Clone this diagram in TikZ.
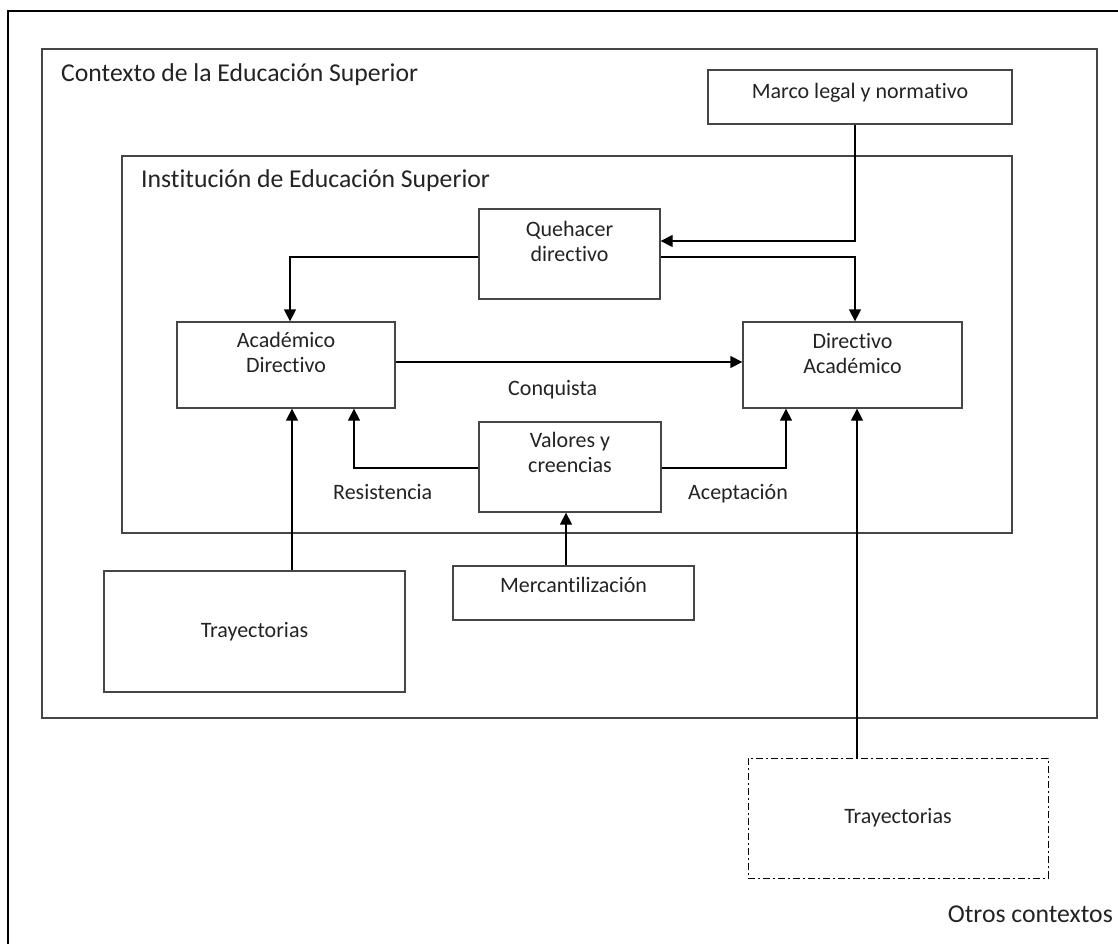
\documentclass[tikz,border=0pt]{standalone}
\usepackage{fontspec}
\setmainfont{Carlito}[RawFeature={-liga;-clig;-calt;-dlig}]
\usetikzlibrary{arrows.meta}
\definecolor{boxline}{RGB}{70,70,70}
\definecolor{txt}{RGB}{35,35,35}
\newcommand{\boxfont}{\fontsize{22}{26}\selectfont}
\newcommand{\headfont}{\fontsize{25.7}{30}\selectfont}
\begin{document}
\begin{tikzpicture}[x=1pt, y=-1pt,
    box/.style={draw=boxline, line width=1.3pt, inner sep=0pt, text=txt, font=\boxfont},
    toplab/.style={anchor=base, inner sep=0pt, text=txt, font=\boxfont},
    tag/.style={anchor=base west, inner sep=0pt, text=txt, font=\boxfont},
    head/.style={anchor=base west, inner sep=0pt, text=txt, font=\headfont},
    arr/.style={-{Triangle[length=12pt, width=12pt]}, line width=1.3pt}]
    \clip (0,0) rectangle (1118,943);

    % marcos de contexto
    \draw[line width=2pt] (8,960) -- (8,11) -- (1130,11);
    \draw[draw=boxline, line width=1.3pt] (42,49) rectangle (1097,718);
    \draw[draw=boxline, line width=1.3pt] (122,156) rectangle (1012,533);
    \node[head] (ctx) at (61,81) {Contexto de la Educación Superior};
    \node[head] (ies) at (141,187) {Institución de Educación Superior};
    \node[head, anchor=base east] (otros) at (1113,922) {Otros contextos};

    \node[box, minimum width=304pt, minimum height=54pt,
        label={[toplab, yshift=-29pt]north:Marco legal y normativo}] (marco) at (860,97) {};
    \node[box, minimum width=181pt, minimum height=90pt,
        label={[toplab, yshift=-28pt]north:Quehacer},
        label={[toplab, yshift=-53pt]north:directivo}] (quehacer) at (569.5,254) {};
    \node[box, minimum width=218pt, minimum height=86pt,
        label={[toplab, yshift=-26pt]north:Académico},
        label={[toplab, yshift=-51pt]north:Directivo}] (acadir) at (286,365) {};
    \node[box, minimum width=219pt, minimum height=86pt,
        label={[toplab, yshift=-27pt]north:Directivo},
        label={[toplab, yshift=-52pt]north:Académico}] (diracad) at (852.5,365) {};
    \node[box, minimum width=182pt, minimum height=90pt,
        label={[toplab, yshift=-26pt]north:Valores y},
        label={[toplab, yshift=-51pt]north:creencias}] (valores) at (570,467) {};
    \node[box, minimum width=241pt, minimum height=54pt,
        label={[toplab, yshift=-27pt]north:Mercantilización}] (merc) at (573.5,593) {};
    \node[box, minimum width=301pt, minimum height=121pt] (trayL) at (254.5,631.5) {Trayectorias};
    \node[box, draw=black, line width=1pt, dash pattern=on 7pt off 3pt on 2pt off 3pt,
        minimum width=300pt, minimum height=120pt] (trayR) at (898,818) {Trayectorias};

    \node[tag] (conq) at (508,395) {Conquista};
    \node[tag] (resis) at (333,499) {Resistencia};
    \node[tag] (acep) at (688,499) {Aceptación};

    \coordinate (c1) at ([xshift=6pt]acadir.south);
    \coordinate (c2) at ([xshift=4.5pt]diracad.south);
    \coordinate (c3) at ([xshift=-4pt]valores.south);

    \draw[arr] ([xshift=-5pt]marco.south) |- ([yshift=13pt]quehacer.east);
    \draw[arr] ([yshift=-3pt]quehacer.east) -| ([xshift=2.5pt]diracad.north);
    \draw[arr] ([yshift=-3pt]quehacer.west) -| ([xshift=4pt]acadir.north);
    \draw[arr] ([yshift=3pt]acadir.east) -- ([yshift=3pt]diracad.west);
    \draw[arr] ([yshift=-1pt]valores.west) -| ([xshift=68pt]acadir.south);
    \draw[arr] ([yshift=-1pt]valores.east) -| ([xshift=-66.5pt]diracad.south);
    \draw[arr] (c1 |- trayL.north) -- (c1);
    \draw[arr] (c2 |- trayR.north) -- (c2);
    \draw[arr] (c3 |- merc.north) -- (c3);
\end{tikzpicture}
\end{document}
